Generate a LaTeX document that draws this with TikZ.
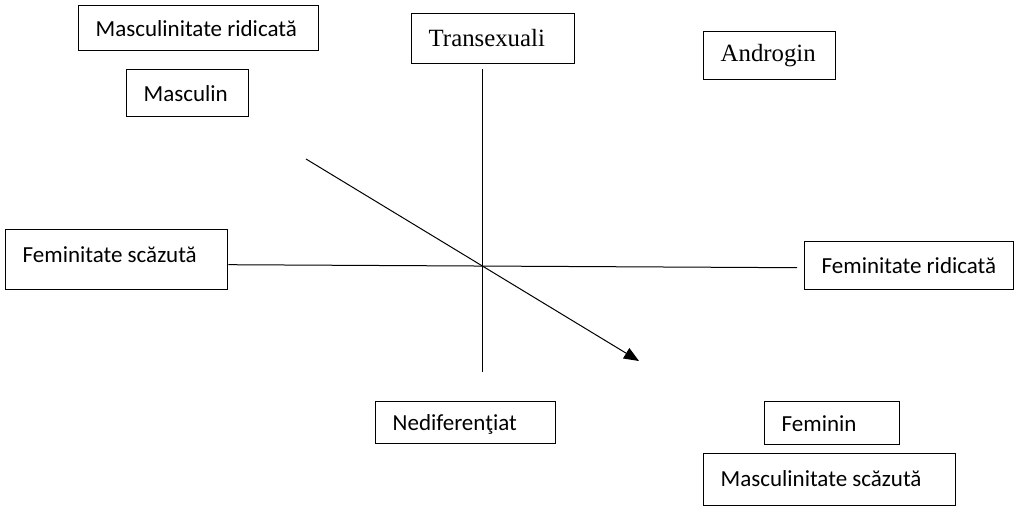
\documentclass[tikz,border=0pt]{standalone}
\usepackage{fontspec}
\setmainfont{Liberation Serif}
\newfontfamily\calibrifont{Carlito}
\usetikzlibrary{arrows.meta}

\begin{document}
\begin{tikzpicture}[
    x=1pt, y=-1pt,
    every node/.style={font=\fontsize{23}{27}\calibrifont, align=flush left},
    quality/.style={draw, line width=1.4pt, anchor=north west, inner xsep=17pt, inner ysep=0pt,
                    text height=16pt, text depth=0pt},
    typebox/.style={quality, font=\fontsize{24.8}{29}\rmfamily},
    axis/.style={line width=1pt},
    arrow/.style={-{Triangle[length=15pt, width=12pt]}, line width=1pt}
]
\useasboundingbox (0,0) rectangle (1016,506);

% Top: masculine side and the two upper types
\node[quality, text width=206pt, minimum height=45pt] (mascup) at (78,5)   {Masculinitate ridicată};
\node[quality, text width=88pt,  minimum height=47pt] (masc)   at (126,69) {Masculin};
\node[typebox, text width=129pt, minimum height=50pt] (trans)  at (411,13) {Transexuali};
\node[typebox, text width=98pt,  minimum height=48pt, text depth=4pt] (andro) at (703,31) {Androgin};

% Middle: femininity axis
\node[quality, text width=188pt, minimum height=60pt, text depth=10pt] (femlow) at (5,229) {Feminitate scăzută};
\node[quality, text width=175pt, minimum height=48pt] (femup) at (804,241) {Feminitate ridicată};

% Bottom: undifferentiated, feminine, low masculinity
\node[quality, text width=146pt, minimum height=42pt, text depth=-2pt] (nedif) at (375,401) {Nediferenţiat};
\node[quality, text width=101pt, minimum height=43pt, text depth=-2pt] (fem)   at (764,401) {Feminin};
\node[quality, text width=218pt, minimum height=52pt, text depth=3pt] (masclow) at (703,453) {Masculinitate scăzută};

% Free ends of the axes
\coordinate (vtop) at (482,69);
\coordinate (vbot) at (482,372);
\coordinate (dtop) at (306,159);
\coordinate (dend) at (639,361);

% Axes
\draw[axis] (vtop) -- (vbot);
\draw[axis] ([yshift=-5pt]femlow.east) -- ([xshift=-7pt, yshift=-2pt]femup.west);
\draw[arrow] (dtop) -- (dend);

\end{tikzpicture}
\end{document}
